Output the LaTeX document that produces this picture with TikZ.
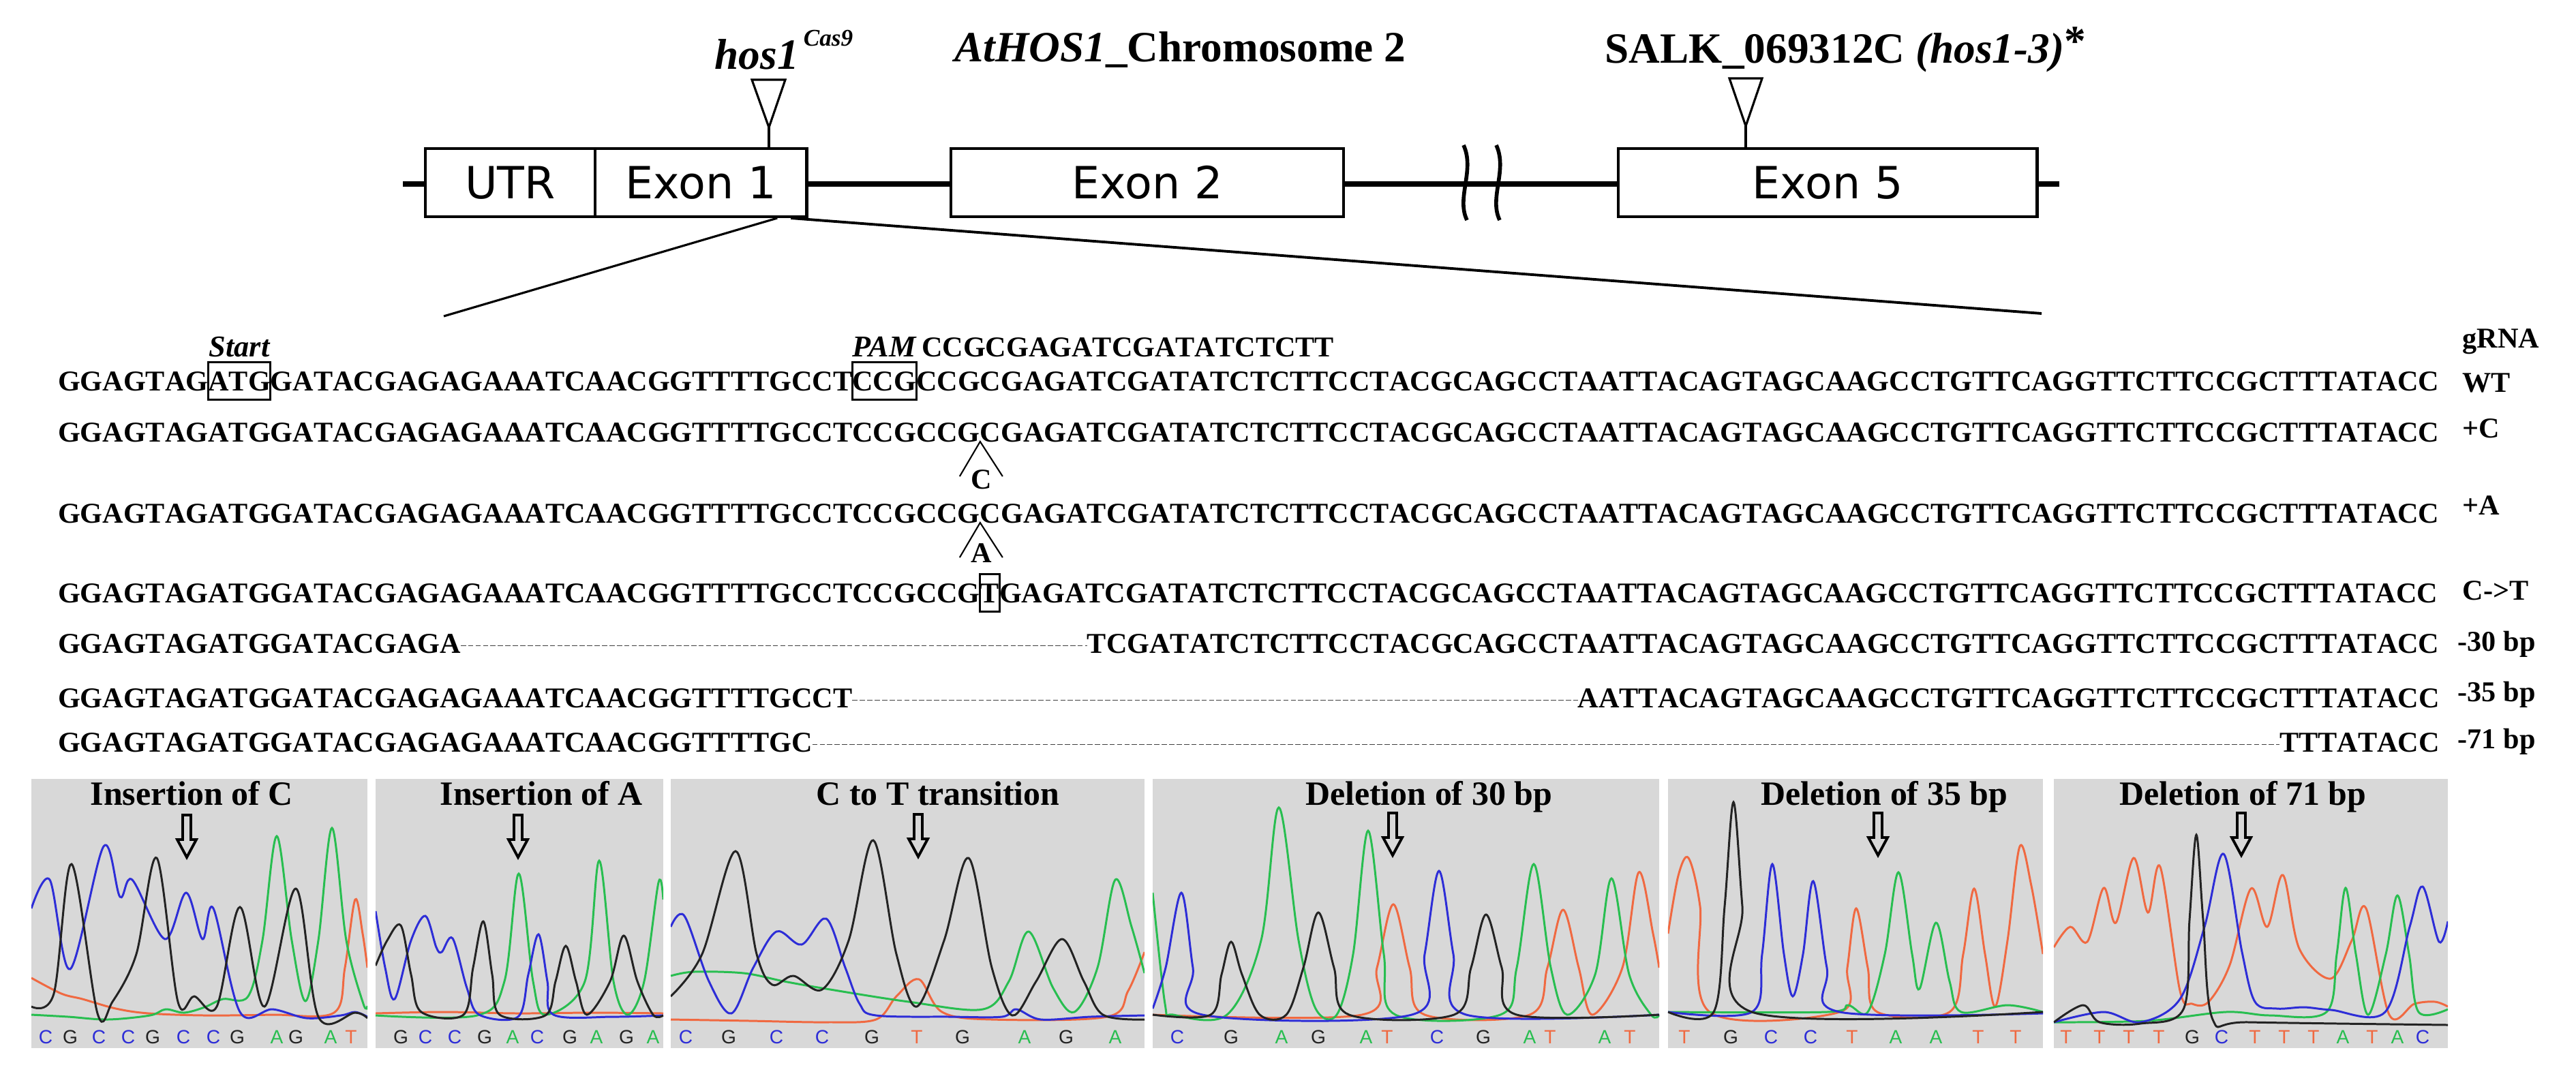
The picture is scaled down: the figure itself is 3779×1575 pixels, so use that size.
\documentclass[tikz,border=0pt]{standalone}
\usepackage{fontspec}
\setmainfont{Liberation Serif}
\newfontfamily\seqfont[Kerning=Off]{Liberation Serif}
\newfontfamily\genefont{DejaVu Sans}
\newfontfamily\ntfont{Liberation Sans}
\usetikzlibrary{positioning}

\definecolor{trblue}{RGB}{45,45,215}
\definecolor{trgreen}{RGB}{40,190,80}
\definecolor{trred}{RGB}{240,105,65}
\definecolor{trblack}{RGB}{35,35,35}
\definecolor{panelgray}{RGB}{216,216,216}

\newcommand{\seqtext}{\seqfont\fontsize{12}{14}\selectfont\bfseries}
\tikzstyle{seq}=[inner sep=0pt,outer sep=0pt,text height=8pt,text depth=0pt,font=\seqtext]
\tikzstyle{seqbox}=[seq,draw,line width=0.85pt,inner ysep=3.8pt]
\tikzstyle{note}=[inner sep=0pt,font=\fontsize{12.6}{14}\selectfont\bfseries\itshape]
\tikzstyle{rowlab}=[inner sep=0pt,anchor=base west,font=\fontsize{12}{14}\selectfont\bfseries]
\tikzstyle{title}=[inner sep=0pt,anchor=base west,font=\fontsize{18}{22}\selectfont\bfseries]
\tikzstyle{exon}=[draw,fill=white,line width=1.3pt,minimum height=1cm,inner sep=0pt,outer sep=0pt,font=\genefont\fontsize{18.5}{22}\selectfont]
\tikzstyle{panel}=[fill=panelgray,minimum height=3.95cm,inner sep=0pt,outer sep=0pt]
\tikzstyle{header}=[inner sep=0pt,anchor=base,font=\fontsize{14.2}{16}\selectfont\bfseries]
\tikzstyle{trace}=[line width=0.85pt,smooth,tension=0.55]
\tikzstyle{nt}=[inner sep=0pt,font=\ntfont\fontsize{8}{9}\selectfont]
\tikzstyle{ntA}=[text=trgreen]
\tikzstyle{ntC}=[text=trblue]
\tikzstyle{ntG}=[text=trblack]
\tikzstyle{ntT}=[text=trred]
\tikzstyle{gapline}=[line width=0.55pt,black!75,dash pattern=on 2.2pt off 0.9pt]
\tikzstyle{caret}=[line width=0.6pt]
\tikzset{mutarrow/.pic={\draw[line width=1.1pt] (-6,0) -- (6,0) -- (6,36) -- (14,36) -- (0,62) -- (-14,36) -- (-6,36) -- cycle;}}

\begin{document}
\begin{tikzpicture}[x=0.01cm,y=-0.01cm]
\fill[white] (0,0) rectangle (3779,1575);
\useasboundingbox (0,0) rectangle (3779,1575);

% gene model
\draw[line width=2.3pt] (591,270) -- (3021,270);
\node[exon,minimum width=2.49cm] (utr) at (748.5,268) {UTR};
\node[exon,minimum width=3.10cm,right=0pt of utr] (ex1) {Exon 1};
\node[exon,minimum width=5.76cm] (ex2) at (1683,268) {Exon 2};
\node[exon,minimum width=6.14cm] (ex5) at (2681,268) {Exon 5};
\draw[line width=1.6pt] (2147,213) .. controls (2164,250) and (2136,290) .. (2152,323);
\draw[line width=1.6pt] (2195,213) .. controls (2212,250) and (2184,290) .. (2200,323);

\node[title] (hoslab) at (1048,101) {\textit{hos1}\hspace{2pt}\raisebox{9.4pt}{\fontsize{10}{12}\selectfont\textit{Cas9}}};
\node[title] (chrlab) at (1400,90) {\textit{AtHOS1}\_Chromosome 2};
\node[title] (salklab) at (2354,92) {SALK\_069312C \textit{(hos1-3)}\raisebox{3pt}{*}};

\coordinate (castip) at (1128,187);
\draw[line width=0.9pt] (1103,117) -- (1152,117) -- (castip) -- cycle;
\draw[line width=0.9pt] (castip) -- (castip |- ex1.north);
\coordinate (salktip) at (2561,185);
\draw[line width=0.9pt] (2537,115) -- (2585,115) -- (salktip) -- cycle;
\draw[line width=0.9pt] (salktip) -- (salktip |- ex5.north);

\coordinate (zl) at (651,464);
\coordinate (zr) at (2995,460);
\draw[line width=0.9pt] ([shift={(-43,2)}]ex1.south east) -- (zl);
\draw[line width=1.1pt] ([shift={(-23,2)}]ex1.south east) -- (zr);

% WT and gRNA
\node[seq,anchor=base west] (wt1) at (85,573) {GGAGTAG};
\node[seqbox,right=0pt of wt1] (wtatg) {ATG};
\node[seq,right=0pt of wtatg] (wt2) {GATACGAGAGAAATCAACGGTTTTGCCT};
\node[seqbox,right=0pt of wt2] (wtpam) {CCG};
\node[seq,right=0pt of wtpam] (wt3) {CCGCGAGATCGATATCTCTTCCTACGCAGCCTAATTACAGTAGCAAGCCTGTTCAGGTTCTTCCGCTTTATACC};
\node[seq,anchor=base west] (grna) at ([shift={(8,-50)}]wt3.base west) {CCGCGAGATCGATATCTCTT};
\node[note,anchor=base] (startlab) at (wtatg.base |- grna.base) {Start};
\node[note,anchor=base] (pamlab) at (wtpam.base |- grna.base) {PAM};

% +C
\node[seq,anchor=base west] (pc1) at (85,648) {GGAGTAGATGGATACGAGAGAAATCAACGGTTTTGCCTCCGCCG};
\node[seq,right=0pt of pc1] (pc2) {CGAGATCGATATCTCTTCCTACGCAGCCTAATTACAGTAGCAAGCCTGTTCAGGTTCTTCCGCTTTATACC};
\draw[caret] ([shift={(-30,51)}]pc1.base east) -- (pc1.base east) -- ([shift={(33,51)}]pc1.base east);
\node[seq,anchor=base] (insc) at ([shift={(2,69)}]pc1.base east) {C};

% +A
\node[seq,anchor=base west] (pa1) at (85,767) {GGAGTAGATGGATACGAGAGAAATCAACGGTTTTGCCTCCGCCG};
\node[seq,right=0pt of pa1] (pa2) {CGAGATCGATATCTCTTCCTACGCAGCCTAATTACAGTAGCAAGCCTGTTCAGGTTCTTCCGCTTTATACC};
\draw[caret] ([shift={(-30,51)}]pa1.base east) -- (pa1.base east) -- ([shift={(33,51)}]pa1.base east);
\node[seq,anchor=base] (insa) at ([shift={(2,58)}]pa1.base east) {A};

% C->T
\node[seq,anchor=base west] (ct1) at (85,884) {GGAGTAGATGGATACGAGAGAAATCAACGGTTTTGCCTCCGCCG};
\node[seqbox,right=0pt of ct1] (ctt) {T};
\node[seq,right=0pt of ctt] (ct2) {GAGATCGATATCTCTTCCTACGCAGCCTAATTACAGTAGCAAGCCTGTTCAGGTTCTTCCGCTTTATACC};

% deletions
\node[seq,anchor=base west] (d30a) at (85,958) {GGAGTAGATGGATACGAGA};
\node[seq,anchor=base east] (d30b) at (wt3.base east |- 0,958) {TCGATATCTCTTCCTACGCAGCCTAATTACAGTAGCAAGCCTGTTCAGGTTCTTCCGCTTTATACC};
\draw[gapline] ([yshift=-1pt]d30a.east) -- ([yshift=-1pt]d30b.west);
\node[seq,anchor=base west] (d35a) at (85,1038) {GGAGTAGATGGATACGAGAGAAATCAACGGTTTTGCCT};
\node[seq,anchor=base east] (d35b) at (wt3.base east |- 0,1038) {AATTACAGTAGCAAGCCTGTTCAGGTTCTTCCGCTTTATACC};
\draw[gapline] ([yshift=-1pt]d35a.east) -- ([yshift=-1pt]d35b.west);
\node[seq,anchor=base west] (d71a) at (85,1103) {GGAGTAGATGGATACGAGAGAAATCAACGGTTTTGC};
\node[seq,anchor=base east] (d71b) at (wt3.base east |- 0,1103) {TTTATACC};
\draw[gapline] ([yshift=-1pt]d71a.east) -- ([yshift=-1pt]d71b.west);

% row labels
\node[rowlab] (lgrna) at (3612,510) {gRNA};
\node[rowlab] (lwt) at (3612,575) {WT};
\node[rowlab] (lpc) at (3612,642) {+C};
\node[rowlab] (lpa) at (3612,755) {+A};
\node[rowlab] (lct) at (3612,880) {C->T};
\node[rowlab] (l30) at (3605,955) {-30 bp};
\node[rowlab] (l35) at (3605,1029) {-35 bp};
\node[rowlab] (l71) at (3605,1098) {-71 bp};

% chromatogram panels
\node[panel,minimum width=4.93cm] (p1) at (292.5,1340.5) {};
\node[panel,minimum width=4.22cm] (p2) at (762,1340.5) {};
\node[panel,minimum width=6.95cm] (p3) at (1331.5,1340.5) {};
\node[panel,minimum width=7.43cm] (p4) at (2062.5,1340.5) {};
\node[panel,minimum width=5.50cm] (p5) at (2722,1340.5) {};
\node[panel,minimum width=5.78cm] (p6) at (3302,1340.5) {};

\begin{scope}
\clip (p1.south west) rectangle (p1.north east);
\draw[trace,trred] plot coordinates {(46,1435) (90,1458) (121,1466) (170,1480) (218,1487) (300,1490) (400,1489) (490,1486) (506,1420) (521,1320) (532,1370) (539,1420)};
\draw[trace,trgreen] plot coordinates {(46,1489) (100,1492) (158,1496) (220,1490) (243,1481) (270,1486) (300,1478) (327,1466) (364,1462) (385,1380) (406,1227) (428,1380) (448,1469) (467,1380) (487,1215) (508,1380) (533,1473) (539,1476)};
\draw[trace,trblue] plot coordinates {(46,1333) (73,1291) (103,1422) (152,1242) (176,1316) (194,1291) (242,1378) (273,1310) (297,1378) (313,1333) (352,1485) (400,1481) (450,1494) (500,1490) (521,1485) (539,1492)};
\draw[trace,trblack] plot coordinates {(46,1477) (79,1458) (105,1268) (143,1487) (165,1470) (200,1400) (230,1259) (261,1470) (285,1462) (318,1477) (352,1331) (388,1477) (434,1304) (467,1492) (521,1486) (539,1494)};
\end{scope}

\begin{scope}
\clip (p2.south west) rectangle (p2.north east);
\draw[trace,trred] plot coordinates {(551,1487) (650,1485) (760,1487) (870,1486) (973,1487)};
\draw[trace,trgreen] plot coordinates {(551,1490) (700,1490) (740,1440) (761,1282) (782,1440) (800,1489) (858,1440) (879,1263) (900,1440) (921,1489) (945,1440) (966,1295) (973,1320)};
\draw[trace,trblue] plot coordinates {(551,1337) (565,1420) (579,1466) (603,1380) (624,1344) (640,1390) (648,1397) (664,1377) (685,1450) (703,1489) (760,1492) (775,1430) (790,1371) (803,1440) (812,1489) (900,1492) (973,1490)};
\draw[trace,trblack] plot coordinates {(551,1417) (568,1380) (588,1358) (603,1430) (618,1485) (680,1489) (694,1420) (709,1352) (722,1430) (733,1489) (800,1490) (815,1440) (830,1388) (845,1440) (861,1489) (895,1440) (915,1373) (935,1440) (958,1489) (973,1490)};
\end{scope}

\begin{scope}
\clip (p3.south west) rectangle (p3.north east);
\draw[trace,trred] plot coordinates {(984,1496) (1100,1498) (1212,1500) (1285,1496) (1315,1462) (1348,1437) (1382,1485) (1455,1496) (1624,1492) (1655,1454) (1679,1397)};
\draw[trace,trgreen] plot coordinates {(984,1432) (1018,1426) (1091,1428) (1150,1440) (1212,1451) (1333,1470) (1442,1481) (1480,1440) (1509,1367) (1545,1450) (1576,1485) (1610,1420) (1636,1291) (1660,1360) (1679,1428)};
\draw[trace,trblue] plot coordinates {(984,1360) (1004,1344) (1040,1440) (1073,1487) (1105,1420) (1139,1367) (1176,1386) (1212,1348) (1240,1420) (1261,1473) (1285,1490) (1394,1492) (1470,1492) (1491,1481) (1527,1496) (1600,1492) (1679,1490)};
\draw[trace,trblack] plot coordinates {(984,1462) (1030,1400) (1079,1249) (1110,1400) (1133,1445) (1164,1432) (1206,1452) (1245,1380) (1281,1233) (1315,1400) (1345,1477) (1385,1380) (1421,1259) (1455,1420) (1485,1490) (1520,1440) (1558,1378) (1590,1440) (1618,1489) (1679,1496)};
\end{scope}

\begin{scope}
\clip (p4.south west) rectangle (p4.north east);
\draw[trace,trred] plot coordinates {(1691,1489) (1998,1489) (2020,1420) (2044,1327) (2068,1420) (2090,1489) (2244,1489) (2270,1420) (2293,1335) (2316,1420) (2336,1489) (2380,1420) (2404,1280) (2425,1370) (2434,1420)};
\draw[trace,trgreen] plot coordinates {(1691,1310) (1709,1473) (1721,1489) (1800,1489) (1850,1380) (1876,1185) (1905,1380) (1930,1480) (1961,1489) (1985,1400) (2007,1219) (2030,1400) (2047,1489) (2201,1489) (2225,1420) (2250,1268) (2275,1420) (2299,1489) (2340,1430) (2364,1289) (2390,1430) (2422,1489) (2434,1490)};
\draw[trace,trblue] plot coordinates {(1691,1480) (1710,1420) (1733,1310) (1750,1420) (1764,1489) (2071,1489) (2090,1400) (2111,1278) (2132,1400) (2151,1489) (2434,1489)};
\draw[trace,trblack] plot coordinates {(1691,1489) (1776,1489) (1792,1430) (1806,1382) (1822,1430) (1848,1489) (1887,1489) (1912,1420) (1934,1339) (1957,1420) (1979,1489) (2133,1489) (2158,1420) (2180,1342) (2203,1420) (2225,1489) (2434,1489)};
\end{scope}

\begin{scope}
\clip (p5.south west) rectangle (p5.north east);
\draw[trace,trred] plot coordinates {(2447,1370) (2462,1285) (2477,1259) (2494,1330) (2508,1485) (2699,1485) (2710,1420) (2723,1333) (2740,1420) (2754,1485) (2860,1485) (2880,1400) (2896,1304) (2912,1400) (2927,1477) (2945,1380) (2963,1242) (2980,1300) (2997,1400)};
\draw[trace,trgreen] plot coordinates {(2447,1485) (2680,1485) (2711,1475) (2740,1485) (2765,1400) (2785,1280) (2805,1400) (2816,1451) (2840,1354) (2860,1440) (2877,1485) (2945,1475) (2997,1485)};
\draw[trace,trblue] plot coordinates {(2447,1485) (2570,1485) (2585,1400) (2600,1268) (2617,1400) (2630,1462) (2645,1400) (2660,1293) (2680,1420) (2699,1485) (2997,1487)};
\draw[trace,trblack] plot coordinates {(2447,1485) (2514,1485) (2530,1330) (2543,1177) (2556,1330) (2570,1485) (2997,1485)};
\end{scope}

\begin{scope}
\clip (p6.south west) rectangle (p6.north east);
\draw[trace,trred] plot coordinates {(3013,1390) (3037,1360) (3062,1382) (3086,1303) (3104,1354) (3130,1259) (3151,1339) (3169,1272) (3198,1454) (3216,1473) (3240,1470) (3271,1416) (3302,1304) (3326,1360) (3349,1284) (3373,1392) (3419,1436) (3450,1380) (3471,1333) (3505,1489) (3542,1473) (3572,1470) (3591,1477)};
\draw[trace,trgreen] plot coordinates {(3013,1500) (3150,1498) (3265,1485) (3330,1490) (3413,1485) (3428,1400) (3441,1303) (3456,1400) (3474,1489) (3500,1400) (3517,1314) (3534,1400) (3548,1485) (3591,1481)};
\draw[trace,trblue] plot coordinates {(3013,1500) (3086,1485) (3140,1500) (3198,1466) (3234,1360) (3262,1253) (3289,1397) (3308,1470) (3340,1480) (3380,1478) (3420,1482) (3499,1485) (3535,1360) (3554,1301) (3578,1382) (3591,1352)};
\draw[trace,trblack] plot coordinates {(3013,1500) (3056,1475) (3080,1500) (3140,1502) (3203,1481) (3212,1350) (3222,1225) (3232,1350) (3246,1496) (3300,1500) (3591,1504)};
\end{scope}

% panel headers and arrows
\node[header] (h1) at (281,1181) {Insertion of C};
\node[header] (h2) at (794,1181) {Insertion of A};
\node[header] (h3) at (1376,1181) {C to T transition};
\node[header] (h4) at (2096,1181) {Deletion of 30 bp};
\node[header] (h5) at (2764,1181) {Deletion of 35 bp};
\node[header] (h6) at (3290,1181) {Deletion of 71 bp};
\pic at (274,1196) {mutarrow};
\pic at (760,1196) {mutarrow};
\pic at (1347,1195) {mutarrow};
\pic at (2043,1193) {mutarrow};
\pic at (2755,1193) {mutarrow};
\pic at (3288,1193) {mutarrow};

% base calls
\foreach \x/\b in {67/C,103/G,145/C,188/C,224/G,269/C,313/C,348/G,406/A,434/G,485/A,515/T}
  \node[nt,nt\b] (ba\x) at (\x,1522) {\b};
\foreach \x/\b in {588/G,624/C,667/C,711/G,752/A,788/C,836/G,875/A,919/G,958/A}
  \node[nt,nt\b] (bb\x) at (\x,1522) {\b};
\foreach \x/\b in {1006/C,1069/G,1139/C,1206/C,1279/G,1345/T,1412/G,1503/A,1564/G,1636/A}
  \node[nt,nt\b] (bc\x) at (\x,1522) {\b};
\foreach \x/\b in {1727/C,1806/G,1880/A,1934/G,2004/A,2035/T,2108/C,2176/G,2244/A,2274/T,2354/A,2391/T}
  \node[nt,nt\b] (bd\x) at (\x,1522) {\b};
\foreach \x/\b in {2471/T,2539/G,2598/C,2656/C,2717/T,2781/A,2840/A,2902/T,2957/T}
  \node[nt,nt\b] (be\x) at (\x,1522) {\b};
\foreach \x/\b in {3031/T,3080/T,3123/T,3167/T,3216/G,3259/C,3308/T,3351/T,3394/T,3437/A,3480/T,3517/A,3554/C}
  \node[nt,nt\b] (bf\x) at (\x,1522) {\b};
\end{tikzpicture}
\end{document}
